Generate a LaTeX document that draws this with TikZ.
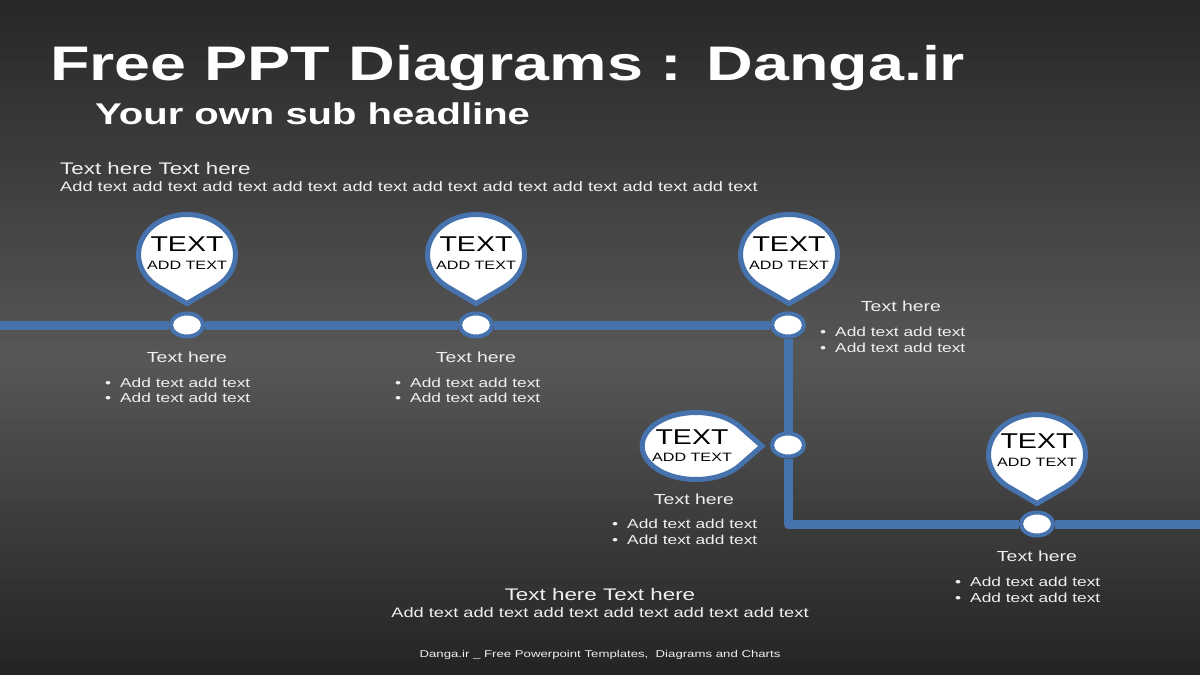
\documentclass[tikz,border=0pt]{standalone}
\usepackage{fontspec}
\setmainfont{Liberation Sans}[FakeStretch=1.333]
\usetikzlibrary{shapes.geometric}
\definecolor{bgtop}{RGB}{40,40,40}
\definecolor{bgmid}{RGB}{86,86,86}
\definecolor{bgbot}{RGB}{36,36,36}
\definecolor{tlblue}{RGB}{70,114,174}
\definecolor{txt}{RGB}{240,240,240}
\tikzset{
  tline/.style={draw=tlblue,line width=9pt,line join=round},
  dot/.style={ellipse,draw=tlblue,line width=4pt,fill=white,minimum width=32pt,minimum height=23pt,inner sep=0pt},
  pinbody/.style={draw=tlblue,line width=5pt,fill=white,line join=miter},
  pics/droppin/.style 2 args={code={
    \path[pinbody] (0,{-1.225*#2}) -- ({#1*cos(-54.7)},{#2*sin(-54.7)})
      arc[start angle=-54.7,end angle=234.7,x radius=#1,y radius=#2] -- cycle;}},
  pinbig/.style={font=\fontsize{21.4}{24}\selectfont,inner sep=0pt,text=black},
  pinsmall/.style={font=\fontsize{12.1}{14}\selectfont,inner sep=0pt,text=black},
  head/.style={font=\fontsize{14.6}{17}\selectfont,inner sep=0pt,text=txt},
  blist/.style={font=\fontsize{13}{15.5}\selectfont,inner sep=0pt,text=txt,align=left,anchor=west},
}
\newcommand{\bl}{\makebox[15pt][l]{\textbullet}}
\begin{document}
\begin{tikzpicture}[x=1pt,y=1pt]
\useasboundingbox (0,0) rectangle (1200,-675);
% background: vertical gradient, lightest near y=360
\foreach \i in {0,...,35}{
  \pgfmathtruncatemacro{\p}{\i*100/35}
  \fill[bgmid!\p!bgtop] (0,{-\i*10}) rectangle (1200,{-\i*10-10.5});
}
\foreach \i in {0,...,31}{
  \pgfmathtruncatemacro{\p}{100-\i*100/31}
  \fill[bgmid!\p!bgbot] (0,{-360-\i*10}) rectangle (1200,{-360-\i*10-10.5});
}

% titles
\node[anchor=base west,inner sep=0pt,text=white,font=\fontsize{48.5}{55}\selectfont\bfseries] (title) at (50,-80) {Free PPT Diagrams : Danga.ir};
\node[anchor=base west,inner sep=0pt,text=white,font=\fontsize{30}{34}\selectfont\bfseries] (sub) at (95,-124) {Your own sub headline};
\node[anchor=west,inner sep=0pt,text=txt,font=\fontsize{16.8}{19}\selectfont] (th1) at (60,-168) {Text here Text here};
\node[anchor=west,inner sep=0pt,text=txt,font=\fontsize{13.7}{16}\selectfont] (ad1) at (60,-187) {Add text add text add text add text add text add text add text add text add text add text};
\node[inner sep=0pt,text=txt,font=\fontsize{16.8}{19}\selectfont] (th2) at (600,-594) {Text here Text here};
\node[inner sep=0pt,text=txt,font=\fontsize{13.7}{16}\selectfont] (ad2) at (600,-613) {Add text add text add text add text add text add text};
\node[anchor=base,inner sep=0pt,text=txt,font=\fontsize{9.9}{12}\selectfont] (foot) at (600,-657) {Danga.ir \_ Free Powerpoint Templates,\ \ Diagrams and Charts};

% timeline nodes
\node[dot] (c1) at (187,-325) {};
\node[dot] (c2) at (476,-325) {};
\node[dot] (c3) at (788,-325) {};
\node[dot] (c4) at (788,-445) {};
\node[dot] (c5) at (1037,-524) {};
\coordinate (L) at (0,-325);
\coordinate (K) at (788,-524);
\coordinate (R) at (1200,-524);
\draw[tline] (L) -- (c1);
\draw[tline] (c1) -- (c2);
\draw[tline] (c2) -- (c3);
\draw[tline] (c3) -- (c4);
\draw[tline] (c4) -- (K) -- (c5);
\draw[tline] (c5) -- (R);

% pins
\pic at (187,-254.5) {droppin={48.5}{40}};
\pic at (476,-254.5) {droppin={48.5}{40}};
\pic at (789,-254.5) {droppin={48.5}{40}};
\pic[rotate=90] at (696,-446) {droppin={33.5}{53.8}};
\pic at (1037,-454.5) {droppin={48.5}{40}};

\node[pinbig] (p1a) at (187,-244) {TEXT};
\node[pinsmall] (p1b) at (187,-265) {ADD TEXT};
\node[pinbig] (p2a) at (476,-244) {TEXT};
\node[pinsmall] (p2b) at (476,-265) {ADD TEXT};
\node[pinbig] (p3a) at (789,-244) {TEXT};
\node[pinsmall] (p3b) at (789,-265) {ADD TEXT};
\node[pinbig] (p4a) at (692,-437) {TEXT};
\node[pinsmall] (p4b) at (692,-457) {ADD TEXT};
\node[pinbig] (p5a) at (1037,-441) {TEXT};
\node[pinsmall] (p5b) at (1037,-462) {ADD TEXT};

% captions
\node[head] (h1) at (187,-357) {Text here};
\node[blist] (b1) at (105,-390.5) {\bl Add text add text\\\bl Add text add text};
\node[head] (h2) at (476,-357) {Text here};
\node[blist] (b2) at (395,-390.5) {\bl Add text add text\\\bl Add text add text};
\node[head] (h3) at (901,-306) {Text here};
\node[blist] (b3) at (820,-340) {\bl Add text add text\\\bl Add text add text};
\node[head] (h4) at (694,-499) {Text here};
\node[blist] (b4) at (612,-532) {\bl Add text add text\\\bl Add text add text};
\node[head] (h5) at (1037,-556) {Text here};
\node[blist] (b5) at (955,-590) {\bl Add text add text\\\bl Add text add text};
\end{tikzpicture}
\end{document}
